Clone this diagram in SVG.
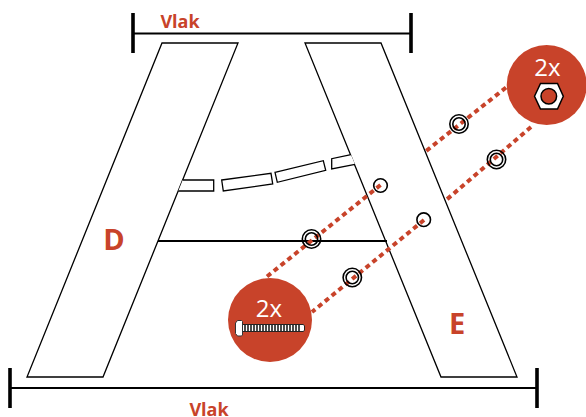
<svg xmlns="http://www.w3.org/2000/svg" width="586" height="417" viewBox="0 0 586 417">
<style>
.leg{fill:#fff;stroke:#000;stroke-width:1.3;stroke-linejoin:miter}
.slot{fill:#fff;stroke:#000;stroke-width:1.3}
.bar{stroke:#000;stroke-width:2;fill:none}
.tick{stroke:#000;stroke-width:3.6;fill:none}
.dot{stroke:#C8432A;stroke-width:4;stroke-dasharray:5 3.8;fill:none}
.ring{fill:none;stroke:#000;stroke-width:1.6}
.lab{font-family:"Open Sans","Noto Sans",sans-serif;font-weight:700;fill:#C8432A}
.big{font-family:"Open Sans","Noto Sans",sans-serif;fill:#fff;font-size:24px}
.red{fill:#C8432A}
</style>
<g id="leg-d"><path class="leg" d="M162 43H238L103 377H27Z"/><text class="lab" x="114" y="250" font-size="29" text-anchor="middle">D</text></g>
<g id="leg-e"><path class="leg" d="M305 43H381L517 377H441Z"/><text class="lab" x="457" y="334" font-size="29" text-anchor="middle">E</text></g>
<g id="slots">
<path class="slot" d="M182.700 180H213.700V191H178.300"/>
<path class="slot" d="M221.700 180L271 173.300L272.700 184L223.300 191Z"/>
<path class="slot" d="M275 172.300L323.300 160.700L325.700 170.300L277.300 182.300Z"/>
<path class="slot" d="M351 154.700L331.700 158.700V169L355 164.300"/>
</g>
<g id="dim-top"><path class="bar" d="M133 33.500H411"/><path class="tick" d="M133 13V53M411 13V53"/><text class="lab" x="180" y="28" font-size="18" text-anchor="middle">Vlak</text></g>
<g id="dim-bottom"><path class="bar" d="M10 388H537"/><path class="tick" d="M10 368V408M537 368V408"/><text class="lab" x="209" y="415.500" font-size="18" text-anchor="middle">Vlak</text></g>
<g id="crossbar"><path class="bar" d="M158 241H387"/></g>
<g id="connectors">
<path class="dot" d="M380.500 185L264 279"/>
<path class="dot" d="M424 220L312 312"/>
<path class="dot" d="M506 87.500L425.500 151.500"/>
<path class="dot" d="M531 127L445 201"/>
</g>
<g id="holes">
<circle class="ring" cx="380.500" cy="185.500" r="6.800"/>
<circle class="ring" cx="423.700" cy="219.700" r="6.800"/>
<g id="washer-1"><circle class="ring" cx="311.500" cy="239" r="9.200"/><circle class="ring" cx="311.500" cy="239" r="6.200"/></g>
<g id="washer-2"><circle class="ring" cx="352.300" cy="277.500" r="9.200"/><circle class="ring" cx="352.300" cy="277.500" r="6.200"/></g>
<g id="washer-3"><circle class="ring" cx="459" cy="124" r="9.200"/><circle class="ring" cx="459" cy="124" r="6.200"/></g>
<g id="washer-4"><circle class="ring" cx="496.500" cy="159.500" r="9.200"/><circle class="ring" cx="496.500" cy="159.500" r="6.200"/></g>
</g>
<g id="bolt-callout">
<circle class="red" cx="270" cy="320" r="42"/>
<text class="big" x="269" y="317" text-anchor="middle">2x</text>
<path d="M242 324.500H303.500L304.500 326V330L303.500 331.500H242Z" fill="#fff" stroke="#222" stroke-width="1"/>
<path d="M237.500 320.500H241.500L242.500 321.500V335L241.500 336H237.500L235.500 333.500V323Z" fill="#fff" stroke="#333" stroke-width="1"/>
<path d="M245 325V331M248 325V331M251 325V331M254 325V331M257 325V331M260 325V331M263 325V331M266 325V331M269 325V331M272 325V331M275 325V331M278 325V331M281 325V331M284 325V331M287 325V331M290 325V331M293 325V331M296 325V331M299 325V331" stroke="#111" stroke-width="1.500"/>
</g>
<g id="nut-callout">
<circle class="red" cx="546.700" cy="85" r="40"/>
<text class="big" x="547.500" y="75.500" text-anchor="middle">2x</text>
<path d="M534.500 96.200L540.500 83.500H557.500L563.300 96.200L557.500 109H540.500Z" fill="#fff" stroke="#000" stroke-width="1.500"/>
<circle cx="548.800" cy="96.200" r="7.800" fill="#C8432A" stroke="#000" stroke-width="1.500"/>
</g>
</svg>
